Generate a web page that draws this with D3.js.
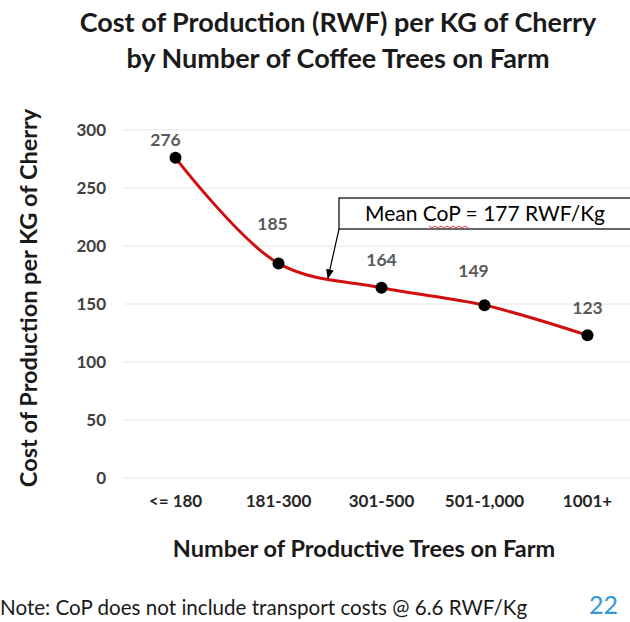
<!DOCTYPE html>
<html><head><meta charset="utf-8">
<script src="https://cdn.jsdelivr.net/npm/d3@7"></script>
<style>body{margin:0;background:#fff;} svg{display:block;}</style>
</head><body>
<svg id="c" width="630" height="622"></svg>
<script>
const categories = ["<= 180", "181-300", "301-500", "501-1,000", "1001+"];
const values = [276, 185, 164, 149, 123];
const yTicks = [0, 50, 100, 150, 200, 250, 300];
const labelDx = [-10, -6, 0, -11, 0];
const labelDy = [-16, -38, -26, -33, -26];
const meanText = "Mean CoP = 177 RWF/Kg";

const F = "Lato, 'Open Sans', sans-serif";
const svg = d3.select("#c");
const x = d3.scaleBand().domain(categories).range([124, 639]);
const y = d3.scaleLinear().domain([0, 300]).range([478, 130]);

// gridlines
svg.append("g").selectAll("line").data(yTicks).join("line")
  .attr("x1", 124).attr("x2", 630)
  .attr("y1", d => y(d)).attr("y2", d => y(d))
  .attr("stroke", "#e6e6e6").attr("stroke-width", 1.2);

// y axis
const ya = svg.append("g").attr("transform", "translate(106,0)")
  .call(d3.axisLeft(y).tickValues(yTicks).tickSize(0).tickPadding(0));
ya.select(".domain").remove();
ya.selectAll("text").attr("font-family", F).attr("font-size", 17).attr("font-weight", "bold").attr("fill", "#404040");

// x axis
const xa = svg.append("g").attr("transform", "translate(0,495)")
  .call(d3.axisBottom(x).tickSize(0).tickPadding(0));
xa.select(".domain").remove();
xa.selectAll("text").attr("font-family", F).attr("font-size", 17).attr("font-weight", "bold").attr("fill", "#262626");

// line
const cx = (d, i) => x(categories[i]) + x.bandwidth() / 2;
const line = d3.line().x(cx).y(d => y(d)).curve(d3.curveCatmullRom.alpha(0.5));
svg.append("path").datum(values).attr("d", line)
  .attr("fill", "none").attr("stroke", "#d01010").attr("stroke-width", 3);

svg.append("g").selectAll("circle").data(values).join("circle")
  .attr("cx", cx).attr("cy", d => y(d)).attr("r", 6).attr("fill", "#000");

svg.append("g").selectAll("text").data(values).join("text")
  .attr("x", (d, i) => cx(d, i) + labelDx[i]).attr("y", (d, i) => y(d) + labelDy[i])
  .attr("text-anchor", "middle").attr("dominant-baseline", "middle")
  .attr("font-family", F).attr("font-size", 17.5).attr("font-weight", "bold").attr("fill", "#595959")
  .text(d => d);

// title
const t = svg.append("text").attr("text-anchor", "middle").attr("font-family", F)
  .attr("font-weight", "bold").attr("font-size", 27).attr("fill", "#1a1a1a");
t.append("tspan").attr("x", 338).attr("y", 32).text("Cost of Production (RWF) per KG of Cherry");
t.append("tspan").attr("x", 338).attr("y", 68).text("by Number of Coffee Trees on Farm");

// axis titles
svg.append("text").attr("transform", "translate(37,298) rotate(-90)")
  .attr("text-anchor", "middle").attr("font-family", F).attr("font-weight", "bold")
  .attr("font-size", 23.5).attr("fill", "#1a1a1a").text("Cost of Production  per KG of Cherry");
svg.append("text").attr("x", 364).attr("y", 557).attr("text-anchor", "middle")
  .attr("font-family", F).attr("font-weight", "bold").attr("font-size", 23.5).attr("fill", "#1a1a1a")
  .text("Number of Productive Trees on Farm");

// annotation
svg.append("rect").attr("x", 339).attr("y", 198).attr("width", 300).attr("height", 31)
  .attr("fill", "#fff").attr("stroke", "#000").attr("stroke-width", 1.2);
svg.append("text").attr("x", 485).attr("y", 221).attr("text-anchor", "middle")
  .attr("font-family", F).attr("font-size", 21).attr("fill", "#000").text(meanText);
// spell-check squiggle under "CoP"
const sq = d3.path();
sq.moveTo(429, 226);
for (let k = 0; k < 13; k++) sq.lineTo(429 + (k + 1) * 3, k % 2 === 0 ? 228 : 226);
svg.append("path").attr("d", sq.toString()).attr("fill", "none").attr("stroke", "#e03030").attr("stroke-width", 1);
svg.append("defs").append("marker").attr("id", "ah").attr("viewBox", "0 0 10 10")
  .attr("refX", 9).attr("refY", 5).attr("markerWidth", 8).attr("markerHeight", 8).attr("orient", "auto")
  .append("path").attr("d", "M0,1 L10,5 L0,9 Z").attr("fill", "#000");
svg.append("line").attr("x1", 339).attr("y1", 229).attr("x2", 328).attr("y2", 278)
  .attr("stroke", "#000").attr("stroke-width", 1.2).attr("marker-end", "url(#ah)");

// note
svg.append("text").attr("x", 0).attr("y", 615).attr("font-family", F).attr("font-size", 20.6)
  .attr("fill", "#1a1a1a").text("Note: CoP does not include transport costs @ 6.6 RWF/Kg");
svg.append("text").attr("x", 618).attr("y", 614).attr("text-anchor", "end").attr("font-family", F)
  .attr("font-size", 25).attr("fill", "#3399d6").text("22");
</script>
</body></html>
